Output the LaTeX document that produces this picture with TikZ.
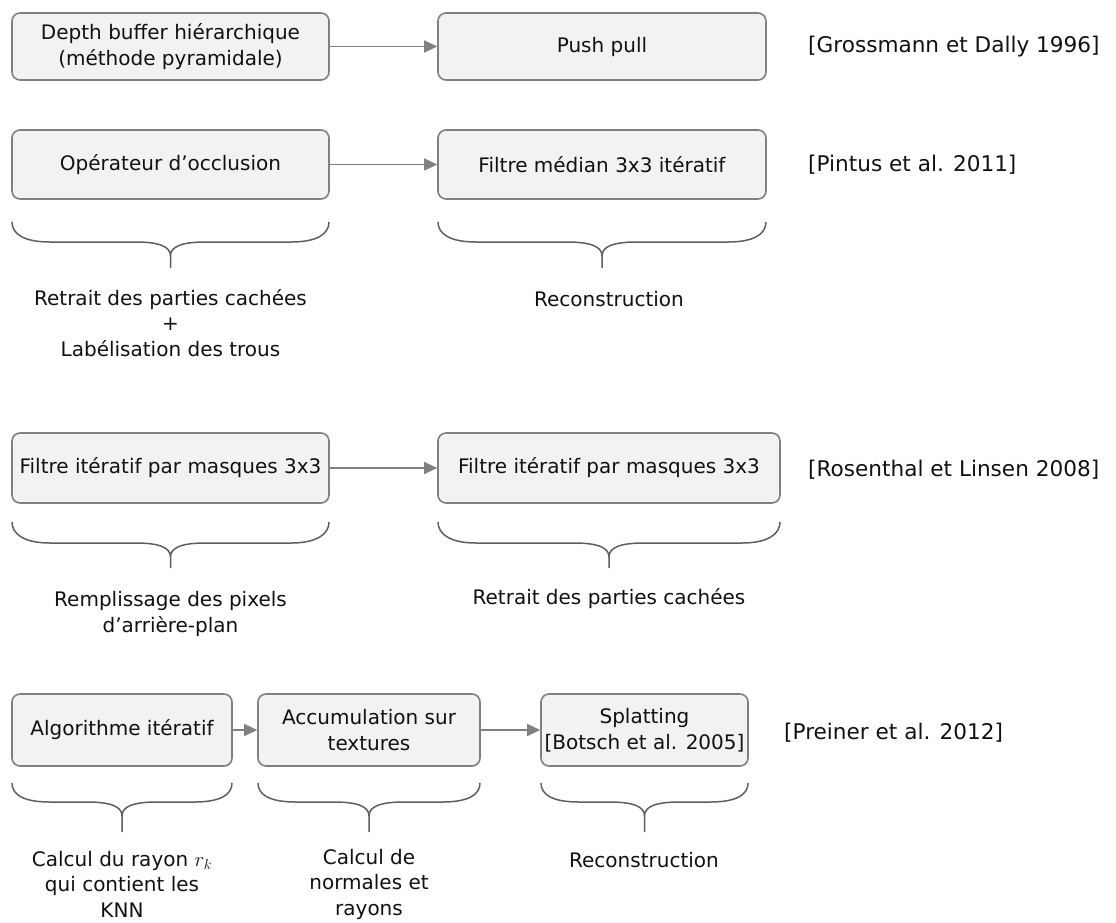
\documentclass[tikz,border=0pt]{standalone}
\usepackage{fontspec}
\setmainfont{DejaVu Sans}
\usetikzlibrary{arrows.meta}
\definecolor{boxfill}{HTML}{F2F2F2}
\definecolor{boxline}{HTML}{808080}
\definecolor{braceline}{HTML}{5E5E5E}
\definecolor{txt}{HTML}{111111}
\tikzset{
  txtfont/.style={font=\fontsize{20}{25.5}\selectfont, text=txt},
  stepbox/.style={txtfont, draw=boxline, fill=boxfill, line width=1.6pt, rounded corners=8pt, align=center, inner sep=0pt},
  arr/.style={draw=boxline, line width=1.6pt, -{Triangle[length=13pt,width=12pt]}},
  bracepath/.style={draw=braceline, line width=1.5pt},
  lbl/.style={txtfont, align=center, inner sep=0pt},
  cite/.style={font=\fontsize{21.6}{26}\selectfont, text=txt, anchor=west, inner sep=0pt}
}
% brace: L R yt ym yb
\newcommand{\mycbrace}[5]{%
  \pgfmathsetmacro{\bcx}{(#1+#2)/2}%
  \draw[bracepath] (#1,#3) .. controls (#1,#3+12) and (#1+12,#4) .. (#1+38,#4)
    -- (\bcx-35,#4) .. controls (\bcx-10,#4) and (\bcx,#4+5) .. (\bcx,#4+14)
    -- (\bcx,#5)
    (\bcx,#4+14) .. controls (\bcx,#4+5) and (\bcx+10,#4) .. (\bcx+35,#4)
    -- (#2-38,#4) .. controls (#2-12,#4) and (#2,#3+12) .. (#2,#3);}
\begin{document}
\begin{tikzpicture}[x=1pt,y=-1pt]
\useasboundingbox (0,0) rectangle (1116,922);
% Row 1
\node[stepbox, minimum width=317pt, minimum height=67pt] (a1) at (170.5,46.5) {Depth buffer hiérarchique\\(méthode pyramidale)};
\node[stepbox, minimum width=328pt, minimum height=67pt] (b1) at (602,46.5) {Push pull};
\node[cite] (c1) at (808,47) {[Grossmann et Dally 1996]};
\draw[arr] (a1) -- (b1);
% Row 2
\node[stepbox, minimum width=317pt, minimum height=69pt] (a2) at (170.5,164.5) {Opérateur d’occlusion};
\node[stepbox, minimum width=328pt, minimum height=69pt] (b2) at (602,164.5) {Filtre médian 3x3 itératif};
\node[cite] (c2) at (808,165) {[Pintus et al. 2011]};
\draw[arr] (a2) -- (b2);
\mycbrace{12}{329}{222}{242}{268}
\mycbrace{438}{766}{222}{242}{268}
\node[lbl] (l2a) at (170.5,323) {Retrait des parties cachées\\+\\Labélisation des trous};
\node[lbl] (l2b) at (609,299) {Reconstruction};
% Row 3
\node[stepbox, minimum width=317pt, minimum height=70pt] (a3) at (170.5,468) {Filtre itératif par masques 3x3};
\node[stepbox, minimum width=342pt, minimum height=70pt] (b3) at (609,468) {Filtre itératif par masques 3x3};
\node[cite] (c3) at (808,470) {[Rosenthal et Linsen 2008]};
\draw[arr] (a3) -- (b3);
\mycbrace{12}{329}{522}{543}{568}
\mycbrace{438}{780}{522}{543}{568}
\node[lbl] (l3a) at (170.5,614) {Remplissage des pixels\\d’arrière-plan};
\node[lbl] (l3b) at (609,599) {Retrait des parties cachées};
% Row 4
\node[stepbox, minimum width=220pt, minimum height=72pt] (a4) at (122,730) {Algorithme itératif};
\node[stepbox, minimum width=222pt, minimum height=72pt] (b4) at (369,730) {Accumulation sur\\textures};
\node[stepbox, minimum width=207pt, minimum height=72pt] (d4) at (644.5,730) {Splatting\\{[Botsch et al. 2005]}};
\node[cite] (c4) at (784,733) {[Preiner et al. 2012]};
\draw[arr] (a4) -- (b4);
\draw[arr] (b4) -- (d4);
\mycbrace{12}{232}{783}{802}{832}
\mycbrace{258}{480}{783}{802}{832}
\mycbrace{541}{748}{783}{802}{832}
\node[lbl] (l4a) at (122,884) {Calcul du rayon $r_k$\\qui contient les\\KNN};
\node[lbl] (l4b) at (369,884) {Calcul de\\normales et\\rayons};
\node[lbl] (l4c) at (644,860) {Reconstruction};
\end{tikzpicture}
\end{document}
